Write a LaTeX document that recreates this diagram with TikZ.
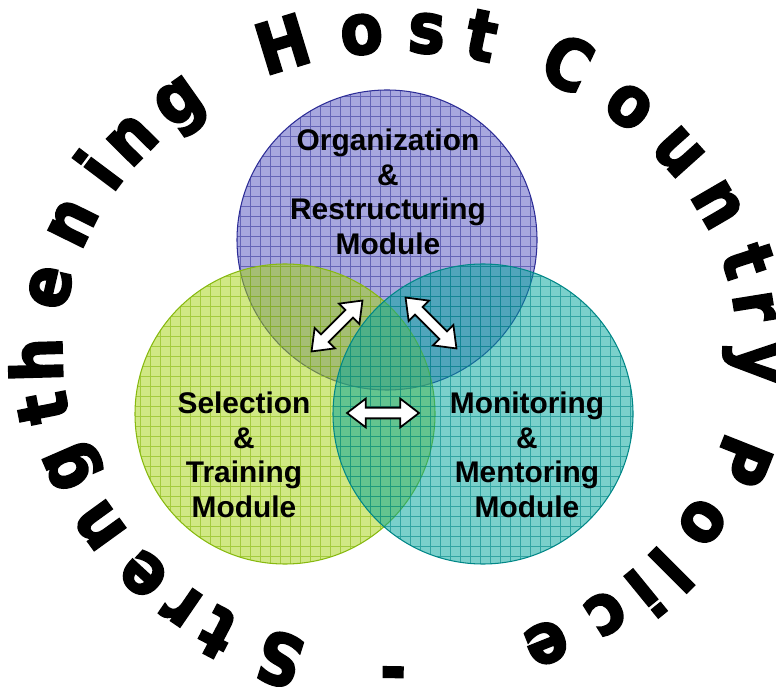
\documentclass[tikz,border=0pt]{standalone}
\usepackage{fontspec}
\setmainfont{Liberation Sans}
\newfontfamily\arcfont{DejaVu Sans}[FakeStretch=0.88,FakeBold=3]
\usetikzlibrary{shapes.arrows}

\definecolor{topfill}{RGB}{80,80,190}
\definecolor{topline}{RGB}{45,45,150}
\definecolor{leftfill}{RGB}{164,210,19}
\definecolor{leftline}{RGB}{135,185,15}
\definecolor{rightfill}{RGB}{0,164,155}
\definecolor{rightline}{RGB}{0,135,135}

\begin{document}
\begin{tikzpicture}[x=0.02cm, y=0.02cm,
  module/.style={align=center, font=\fontsize{17}{19.7}\selectfont\bfseries},
  twoway/.style={double arrow, draw=black, fill=white, line width=1pt, inner xsep=0pt,
    inner ysep=0.09cm, minimum height=1.44cm, minimum width=0.54cm,
    double arrow head extend=0.18cm, double arrow tip angle=75},
  arcletter/.style={anchor=base, inner sep=0pt, font=\arcfont\bfseries\fontsize{40}{40}\selectfont},
  arcch/.style={arcletter, at={({400+338*cos(#1)},{334+300*sin(#1)})},
    rotate={atan2(-300*cos(#1),338*sin(#1))}}]
\useasboundingbox (0,0) rectangle (776,686);

% Top circle
\begin{scope}
\clip (387,446) circle (150);
\fill[topfill, fill opacity=0.5] (387,446) circle (150);
\draw[topline, step=10, line width=0.4pt, opacity=0.55] (230,290) grid (540,600);
\end{scope}
\draw[topline, line width=0.6pt] (387,446) circle (150);

% Left circle
\begin{scope}
\clip (285,272) circle (150);
\fill[leftfill, fill opacity=0.52] (285,272) circle (150);
\draw[leftline, step=10, line width=0.4pt, opacity=0.6] (130,120) grid (440,430);
\end{scope}
\draw[leftline, line width=0.6pt] (285,272) circle (150);

% Right circle
\begin{scope}
\clip (483,272) circle (150);
\fill[rightfill, fill opacity=0.52] (483,272) circle (150);
\draw[rightline, step=10, line width=0.4pt, opacity=0.6] (330,120) grid (640,430);
\end{scope}
\draw[rightline, line width=0.6pt] (483,272) circle (150);

% Modules
\node[module] (orgmod) at (388,494) {Organization\\\&\\Restructuring\\Module};
\node[module] (selmod) at (244,231) {Selection\\\&\\Training\\Module};
\node[module] (monmod) at (527,231) {Monitoring\\\&\\Mentoring\\Module};

% Two-way arrows
\node[twoway, rotate=45] (orgsel) at (337,360) {};
\node[twoway, rotate=-45] (orgmon) at (431,363) {};
\node[twoway] (selmon) at (383,273) {};

% Strengthening
\node[arcch=250.5] (c1) {S};
\node[arcch=239.5] (c2) {t};
\node[arcch=232.3] (c3) {r};
\node[arcch=223.9] (c4) {e};
\node[arcch=212.7] (c5) {n};
\node[arcch=201.1] (c6) {g};
\node[arcch=189.9] (c7) {t};
\node[arcch=181.4] (c8) {h};
\node[arcch=168.4] (c9) {e};
\node[arcch=156.4] (c10) {n};
\node[arcch=146.3] (c11) {i};
\node[arcch=138.7] (c12) {n};
\node[arcch=128.5] (c13) {g};
% Host
\node[arcch=109.0] (c14) {H};
\node[arcch=96.2] (c15) {o};
\node[arcch=85.7] (c16) {s};
\node[arcch=76.9] (c17) {t};
% Country
\node[arcch=62.3] (c18) {C};
\node[arcch=50.0] (c19) {o};
\node[arcch=38.6] (c20) {u};
\node[arcch=27.3] (c21) {n};
\node[arcch=16.2] (c22) {t};
\node[arcch=8.1] (c23) {r};
\node[arcch=-1.8] (c24) {y};
% Police -
\node[arcch=-19.4] (c25) {P};
\node[arcch=-32.0] (c26) {o};
\node[arcch=-41.6] (c27) {l};
\node[arcch=-47.4] (c28) {i};
\node[arcch=-54.7] (c29) {c};
\node[arcch=-65.7] (c30) {e};
\node[arcch=-91.1] (c31) {-};
\end{tikzpicture}
\end{document}
